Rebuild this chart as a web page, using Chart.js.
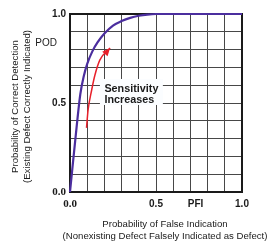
<!DOCTYPE html>
<html>
<head>
<meta charset="utf-8">
<script src="https://cdn.jsdelivr.net/npm/chart.js@4"></script>
<style>
  body { margin: 0; background: #fff; }
  #wrap { width: 269px; height: 244px; }
</style>
</head>
<body>
<div id="wrap"><canvas id="roc" width="269" height="244"></canvas></div>
<script>
// ROC curve
const pfi = [0, 0.04, 0.06, 0.08, 0.1, 0.13, 0.16, 0.2, 0.25, 0.3, 0.35, 0.4, 0.45, 0.5, 1.0];
const pod = [0, 0.38, 0.55, 0.65, 0.72, 0.79, 0.84, 0.89, 0.935, 0.96, 0.978, 0.99, 0.997, 1.0, 1.0];

// red "sensitivity" arrow path
const arrowX = [0.096, 0.105, 0.126, 0.145, 0.174, 0.233];
const arrowY = [0.36, 0.46, 0.573, 0.657, 0.742, 0.809];

const tickValues = [0, 0.5, 1];
const tickText = ["0.0", "0.5", "1.0"];

const xTitle = ["Probability of False Indication", "(Nonexisting Defect Falsely Indicated as Defect)"];
const yTitle = ["Probability of Correct Detection", "(Existing Defect Correctly Indicated)"];
const noteLines = ["Sensitivity", "Increases"];

const TEXT = "#1a1a1a";
const FONT = "'Liberation Sans', Arial, sans-serif";

function tickLabel(v) {
  const i = tickValues.findIndex(t => Math.abs(t - v) < 1e-6);
  return i >= 0 ? tickText[i] : "";
}

function tickFont(ctx) {
  if (ctx.tick && Math.abs(ctx.tick.value) < 1e-6) {
    return { family: "'Liberation Serif', serif", weight: "bold", size: 11 };
  }
  return { family: FONT, weight: "bold", size: 10 };
}

const extras = {
  id: "extras",
  beforeDatasetsDraw(chart) {
    const { ctx, chartArea: a, scales: { x, y } } = chart;
    ctx.save();
    // frame
    ctx.strokeStyle = "#1a1a1a";
    ctx.lineWidth = 2;
    ctx.strokeRect(a.left, a.top, a.right - a.left, a.bottom - a.top);

    // note box
    const bx1 = x.getPixelForValue(0.174), bx2 = x.getPixelForValue(0.54);
    const by1 = y.getPixelForValue(0.635), by2 = y.getPixelForValue(0.489);
    ctx.fillStyle = "#fbfdff";
    ctx.fillRect(bx1, by1, bx2 - bx1, by2 - by1);
    ctx.fillStyle = TEXT;
    ctx.font = "bold 10.8px " + FONT;
    ctx.textAlign = "left";
    ctx.textBaseline = "alphabetic";
    ctx.fillText(noteLines[0], x.getPixelForValue(0.2), y.getPixelForValue(0.562));
    ctx.fillText(noteLines[1], x.getPixelForValue(0.2), y.getPixelForValue(0.5));
    ctx.restore();
  },
  afterDatasetsDraw(chart) {
    const { ctx, chartArea: a, scales: { x, y } } = chart;
    ctx.save();
    // arrowhead
    const n = arrowX.length;
    const tx = x.getPixelForValue(arrowX[n - 1]), ty = y.getPixelForValue(arrowY[n - 1]);
    const px = x.getPixelForValue(arrowX[n - 2]), py = y.getPixelForValue(arrowY[n - 2]);
    const ang = Math.atan2(ty - py, tx - px);
    const len = 8, half = 3.5;
    ctx.fillStyle = "#e8202a";
    ctx.beginPath();
    ctx.moveTo(tx, ty);
    ctx.lineTo(tx - len * Math.cos(ang) + half * Math.sin(ang), ty - len * Math.sin(ang) - half * Math.cos(ang));
    ctx.lineTo(tx - len * Math.cos(ang) - half * Math.sin(ang), ty - len * Math.sin(ang) + half * Math.cos(ang));
    ctx.closePath();
    ctx.fill();

    // POD / PFI labels
    ctx.fillStyle = TEXT;
    ctx.font = "10px " + FONT;
    ctx.textAlign = "right";
    ctx.textBaseline = "middle";
    ctx.fillText("POD", a.left - 13, y.getPixelForValue(0.837));
    ctx.font = "bold 10px " + FONT;
    ctx.textAlign = "center";
    ctx.fillText("PFI", x.getPixelForValue(0.73), a.bottom + 12);

    // axis titles
    ctx.font = "9.6px " + FONT;
    ctx.textAlign = "center";
    const cx = (a.left + a.right) / 2 + 9;
    ctx.fillText(xTitle[0], cx, a.bottom + 32);
    ctx.fillText(xTitle[1], cx, a.bottom + 44);

    ctx.translate(0, (a.top + a.bottom) / 2 + 3.5);
    ctx.rotate(-Math.PI / 2);
    ctx.fillText(yTitle[0], 0, 15);
    ctx.fillText(yTitle[1], 0, 27);
    ctx.restore();
  }
};

const gridColor = c => {
  const v = c.tick ? c.tick.value : 0;
  return Math.abs(v * 10 - Math.round(v * 10)) < 1e-6 ? "#474747" : "rgba(0,0,0,0)";
};

new Chart(document.getElementById("roc"), {
  type: "line",
  data: {
    datasets: [
      {
        data: pfi.map((v, i) => ({ x: v, y: pod[i] })),
        borderColor: "#4b2e9e",
        borderWidth: 2.2,
        pointRadius: 0,
        cubicInterpolationMode: "monotone",
        clip: 3
      },
      {
        data: arrowX.map((v, i) => ({ x: v, y: arrowY[i] })),
        borderColor: "#e8202a",
        borderWidth: 1.5,
        pointRadius: 0,
        cubicInterpolationMode: "monotone"
      }
    ]
  },
  options: {
    responsive: false,
    animation: false,
    layout: { padding: { left: 0, top: 14, right: 27, bottom: 12 } },
    plugins: { legend: { display: false }, tooltip: { enabled: false } },
    scales: {
      x: {
        type: "linear",
        min: 0,
        max: 1,
        afterFit: s => { s.height = 40; },
        border: { display: false },
        grid: { color: gridColor, lineWidth: 1, drawTicks: false },
        ticks: { stepSize: 0.1, autoSkip: false, maxRotation: 0, padding: 6, color: TEXT, font: tickFont, callback: tickLabel }
      },
      y: {
        type: "linear",
        min: 0,
        max: 1,
        afterFit: s => { s.width = 70; },
        border: { display: false },
        grid: { color: gridColor, lineWidth: 1, drawTicks: false },
        ticks: { stepSize: 0.1, autoSkip: false, padding: 4, color: TEXT, font: tickFont, callback: tickLabel }
      }
    }
  },
  plugins: [extras]
});
</script>
</body>
</html>
